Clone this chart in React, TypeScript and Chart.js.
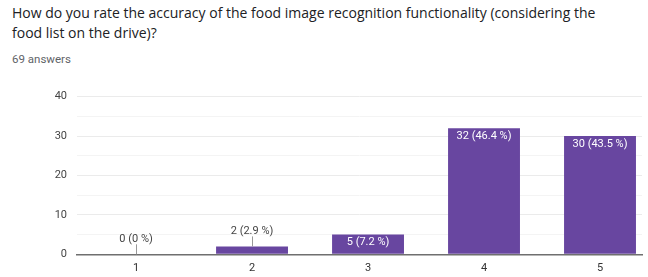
import React, { useEffect, useRef } from "react";
import { Chart, registerables } from "chart.js";

Chart.register(...registerables);

const titleText =
  "How do you rate the accuracy of the food image recognition functionality (considering the food list on the drive)?";
const subtitleText = "69 answers";
const ratings = [1, 2, 3, 4, 5];
const counts = [0, 2, 5, 32, 30];
const percentLabels = ["0 %", "2.9 %", "7.2 %", "46.4 %", "43.5 %"];
const yTicks = [0, 10, 20, 30, 40];

const BAR_COLOR = "#6846a0";

const valueLabelPlugin = {
  id: "valueLabels",
  afterDatasetsDraw(chart: any) {
    const ctx = chart.ctx;
    const meta = chart.getDatasetMeta(0);
    const yScale = chart.scales.y;
    ctx.save();
    ctx.font = "11px Roboto, Arial, sans-serif";
    ctx.textAlign = "center";
    ctx.textBaseline = "middle";
    meta.data.forEach((bar: any, i: number) => {
      const text = `${counts[i]} (${percentLabels[i]})`;
      const barHeight = yScale.getPixelForValue(0) - bar.y;
      if (barHeight > 16) {
        ctx.fillStyle = "#ffffff";
        ctx.fillText(text, bar.x, bar.y + 8);
      } else {
        ctx.strokeStyle = "#999999";
        ctx.lineWidth = 1;
        ctx.beginPath();
        ctx.moveTo(Math.round(bar.x) + 0.5, bar.y);
        ctx.lineTo(Math.round(bar.x) + 0.5, bar.y - 10);
        ctx.stroke();
        ctx.fillStyle = "#444444";
        ctx.fillText(text, bar.x, bar.y - 15);
      }
    });
    ctx.restore();
  },
};

export default function App() {
  const canvasRef = useRef<HTMLCanvasElement | null>(null);

  useEffect(() => {
    document.body.style.margin = "0";
    const canvas = canvasRef.current;
    if (!canvas) return;
    const chart = new Chart(canvas, {
      type: "bar",
      data: {
        datasets: [
          {
            data: ratings.map((r, i) => ({ x: r, y: counts[i] })),
            backgroundColor: BAR_COLOR,
            borderWidth: 0,
            barPercentage: 0.62,
            categoryPercentage: 1,
          },
        ],
      },
      plugins: [valueLabelPlugin],
      options: {
        animation: false,
        responsive: false,
        maintainAspectRatio: false,
        layout: { padding: { left: 0, right: 6, top: 16, bottom: 0 } },
        plugins: {
          legend: { display: false },
          tooltip: { enabled: false },
        },
        scales: {
          x: {
            type: "linear",
            offset: false,
            min: 0.491,
            max: 5.362,
            afterFit: (scale: any) => {
              scale.height = 22.7;
            },
            grid: { display: false, drawTicks: false },
            border: { display: true, color: "#6f6f6f", width: 1.5 },
            ticks: {
              stepSize: 1,
              includeBounds: false,
              padding: 7,
              color: "#333333",
              font: { family: "Roboto, Arial, sans-serif", size: 11 },
              callback: (v: any) => (ratings.includes(Number(v)) ? String(v) : ""),
            },
          },
          y: {
            min: 0,
            max: 40,
            afterFit: (scale: any) => {
              scale.width = 77;
            },
            grid: {
              drawTicks: false,
              color: (c: any) =>
                c.tick && yTicks.includes(c.tick.value) ? "#ebebeb" : "#f4f4f4",
            },
            border: { display: false },
            ticks: {
              stepSize: 5,
              padding: 10,
              color: "#444444",
              font: { family: "Roboto, Arial, sans-serif", size: 11 },
              callback: (v: any) => (yTicks.includes(Number(v)) ? String(v) : ""),
            },
          },
        },
      },
    });
    return () => chart.destroy();
  }, []);

  return (
    <div
      style={{
        position: "relative",
        width: 648,
        height: 277,
        background: "#ffffff",
        fontFamily: "Roboto, Arial, sans-serif",
        overflow: "hidden",
      }}
    >
      <div
        style={{
          position: "absolute",
          left: 12,
          top: 3,
          width: 610,
          fontFamily: "'Open Sans', Roboto, sans-serif",
          fontSize: 14,
          lineHeight: "20px",
          color: "#202124",
        }}
      >
        {titleText}
      </div>
      <div
        style={{
          position: "absolute",
          left: 12,
          top: 51,
          fontSize: 11.5,
          lineHeight: "16px",
          color: "#5f6368",
        }}
      >
        {subtitleText}
      </div>
      <canvas
        ref={canvasRef}
        width={648}
        height={197}
        style={{ position: "absolute", left: 0, top: 80, width: 648, height: 197 }}
      />
    </div>
  );
}
